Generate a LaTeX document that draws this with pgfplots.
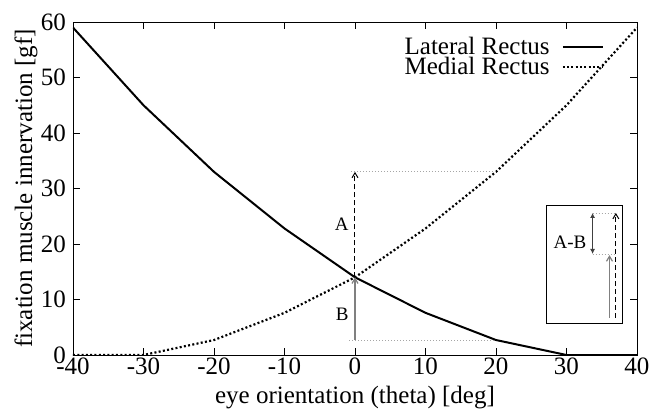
\documentclass[border=0pt]{standalone}
\usepackage{fontspec}
\setmainfont{Liberation Serif}
\usepackage{pgfplots}
\pgfplotsset{compat=1.18}
\usetikzlibrary{arrows.meta}

\begin{document}
\begin{tikzpicture}[font=\fontsize{25}{27}\selectfont]
\begin{axis}[
    scale only axis, width=564pt, height=333pt,
    xmin=-40, xmax=40, ymin=0, ymax=60,
    xtick={-40,-30,-20,-10,0,10,20,30,40},
    xticklabels={-40,-30,-20,-10,0,10,20,30,40},
    ytick={0,10,20,30,40,50,60},
    yticklabels={0,10,20,30,40,50,60},
    tick align=inside, xtick pos=both, ytick pos=both,
    major tick length=7pt,
    axis line style={line width=0.9pt},
    every tick/.style={black, line width=0.9pt},
    xlabel={eye orientation (theta) [deg]},
    ylabel={fixation muscle innervation [gf]},
    xticklabel style={inner sep=0pt, anchor=north, yshift=-3pt},
    yticklabel style={inner sep=0pt, anchor=east, xshift=-7pt},
    xlabel style={at={(axis description cs:0.5,0)}, anchor=base, yshift=-48pt},
    ylabel style={at={(axis description cs:-0.0727,0.5)}, anchor=base},
    legend plot pos=right,
    legend cell align=right,
    legend image code/.code={\draw[#1] (0pt,0pt) -- (40pt,0pt);},
    legend style={draw=none, fill=none, at={(0.947,0.961)}, anchor=north east,
        nodes={inner sep=0pt, text height=17pt, text depth=3pt},
        column sep=12pt, row sep=0pt},
]
% lateral rectus
\addplot[black, line width=2pt] coordinates {
    (-40,59) (-30,45) (-20,33) (-10,22.8) (0,14) (10,7.6) (20,2.7) (30,0) (40,0)
};
\addlegendentry{Lateral Rectus}
% medial rectus
\addplot[black, line width=2.2pt, dash pattern=on 2pt off 2.3pt] coordinates {
    (-40,0) (-30,0) (-20,2.7) (-10,7.6) (0,14) (10,22.8) (20,33) (30,45) (40,59)
};
\addlegendentry{Medial Rectus}

% A and B at theta = 0
\draw[gray!70, line width=0.8pt, dash pattern=on 1pt off 2pt] (axis cs:-0.6,33) -- (axis cs:20,33);
\draw[gray!70, line width=0.8pt, dash pattern=on 1pt off 2pt] (axis cs:-0.8,2.7) -- (axis cs:20,2.7);
\draw[black, line width=1pt, dash pattern=on 5pt off 3pt, -{Straight Barb[length=5pt,width=6pt]}] (axis cs:0,14) -- (axis cs:0,33);
\draw[gray, line width=1.2pt, -{Straight Barb[length=5pt,width=6pt]}] (axis cs:0,2.7) -- (axis cs:0,14);
\node[anchor=east, font=\fontsize{19}{20}\selectfont] at (axis cs:-0.4,23.6) {A};
\node[anchor=east, font=\fontsize{19}{20}\selectfont] at (axis cs:-0.4,7.4) {B};

% inset
\draw[black, line width=0.9pt] (axis cs:27.2,5.6) rectangle (axis cs:38.0,27.0);
\node[font=\fontsize{19}{20}\selectfont] at (axis cs:30.5,20.4) {A-B};
\draw[gray!70, line width=0.8pt, dash pattern=on 1pt off 2pt] (axis cs:33.7,25.6) -- (axis cs:37.0,25.6);
\draw[gray!70, line width=0.8pt, dash pattern=on 1pt off 2pt] (axis cs:33.7,18.2) -- (axis cs:37.0,18.2);
\draw[black!75, line width=1.2pt, {Latex[length=5pt,width=5pt]}-{Latex[length=5pt,width=5pt]}] (axis cs:33.7,18.2) -- (axis cs:33.7,25.6);
\draw[black, line width=1pt, dash pattern=on 5pt off 3pt, -{Straight Barb[length=5pt,width=6pt]}] (axis cs:37.0,6.7) -- (axis cs:37.0,25.6);
\draw[gray, line width=1.2pt, -{Straight Barb[length=5pt,width=6pt]}] (axis cs:36.1,6.7) -- (axis cs:36.1,18.0);
\end{axis}
\pgfresetboundingbox
\useasboundingbox (-73pt,-53pt) rectangle (577pt,355pt);
\end{tikzpicture}
\end{document}
